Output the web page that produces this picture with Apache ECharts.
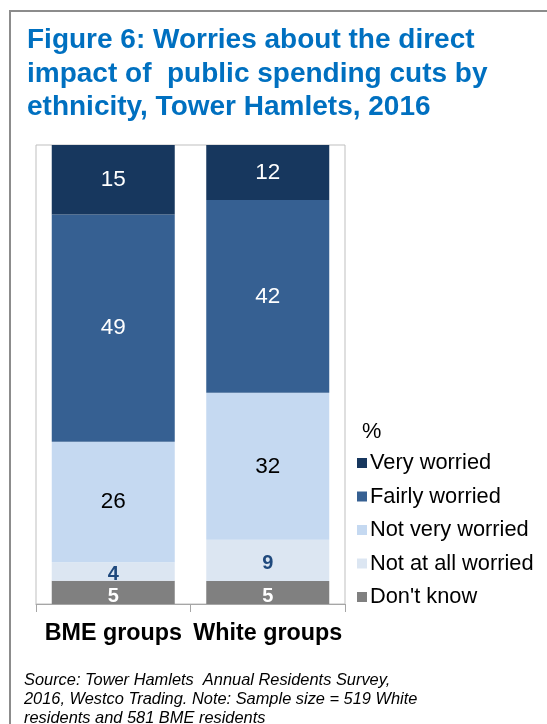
<!DOCTYPE html>
<html>
<head>
<meta charset="utf-8">
<script src="https://cdn.jsdelivr.net/npm/echarts@6/dist/echarts.min.js"></script>
<style>
html, body { margin: 0; padding: 0; background: #fff; }
#chart { width: 547px; height: 724px; }
</style>
</head>
<body>
<div id="chart"></div>
<script>
// data
var groups = ['BME groups', 'White groups'];
var answers = ['Very worried', 'Fairly worried', 'Not very worried', 'Not at all worried', "Don't know"];
var veryWorried = [15, 12];
var fairlyWorried = [49, 42];
var notVeryWorried = [26, 32];
var notAtAllWorried = [4, 9];
var dontKnow = [5, 5];

var colours = ['#17375E', '#366092', '#C5D9F1', '#DCE6F2', '#808080'];

var chart = echarts.init(document.getElementById('chart'));

// 100% stacked: share of each column total
var all = [veryWorried, fairlyWorried, notVeryWorried, notAtAllWorried, dontKnow];
var totals = groups.map(function(g, i){
    var s = 0;
    all.forEach(function(a){ s += a[i]; });
    return s;
});
function share(arr){
    return arr.map(function(v, i){ return { value: v / totals[i] * 100, raw: v }; });
}

function series(name, arr, colour, lbl){
    return {
        name: name,
        type: 'bar',
        stack: 'all',
        barWidth: 123,
        data: share(arr),
        itemStyle: { color: colour },
        label: Object.assign({
            show: true,
            position: 'inside',
            fontFamily: 'Liberation Sans',
            fontSize: 22.5,
            formatter: function(p){ return p.data.raw; }
        }, lbl)
    };
}

var option = {
    animation: false,
    title: {
        text: 'Figure 6: Worries about the direct\nimpact of  public spending cuts by\nethnicity, Tower Hamlets, 2016',
        left: 22,
        top: 19,
        textStyle: {
            color: '#0070C0',
            fontFamily: 'Liberation Sans',
            fontWeight: 'bold',
            fontSize: 28,
            lineHeight: 33.5
        }
    },
    legend: {
        orient: 'vertical',
        left: 352,
        top: 447,
        itemWidth: 10,
        itemHeight: 10,
        itemGap: 11.5,
        icon: 'rect',
        data: answers,
        textStyle: {
            fontFamily: 'Liberation Sans',
            fontSize: 21.8,
            color: '#000',
            padding: [0, 0, 0, -2]
        }
    },
    grid: {
        left: 36,
        right: 202,
        top: 145,
        bottom: 120,
        show: true,
        borderColor: '#BFBFBF',
        borderWidth: 1
    },
    xAxis: {
        type: 'category',
        data: groups,
        axisLine: { lineStyle: { color: '#A6A6A6' } },
        axisTick: { show: true, length: 8, interval: 0, lineStyle: { color: '#A6A6A6' } },
        axisLabel: {
            color: '#000',
            fontFamily: 'Liberation Sans',
            fontWeight: 'bold',
            fontSize: 23.3,
            margin: 18,
            interval: 0
        }
    },
    yAxis: {
        type: 'value',
        min: 0,
        max: 100,
        show: false,
        splitLine: { show: false }
    },
    series: [
        series("Don't know", dontKnow, colours[4], { color: '#fff', fontWeight: 'bold', fontSize: 20, offset: [0, 4] }),
        series('Not at all worried', notAtAllWorried, colours[3], { color: '#1F497D', fontWeight: 'bold', fontSize: 20, offset: [0, 3] }),
        series('Not very worried', notVeryWorried, colours[2], { color: '#000' }),
        series('Fairly worried', fairlyWorried, colours[1], { color: '#fff' }),
        series('Very worried', veryWorried, colours[0], { color: '#fff' })
    ],
    graphic: [
        {
            type: 'rect',
            shape: { x: 10, y: 11, width: 560, height: 760 },
            style: { fill: 'none', stroke: '#8C8C8C', lineWidth: 2 },
            silent: true
        },
        {
            type: 'text',
            left: 362,
            top: 421,
            style: { text: '%', fontFamily: 'Liberation Sans', fontSize: 21.8, fill: '#000' }
        },
        {
            type: 'text',
            left: 24,
            top: 671,
            style: {
                text: 'Source: Tower Hamlets  Annual Residents Survey,\n2016, Westco Trading. Note: Sample size = 519 White\nresidents and 581 BME residents',
                fontFamily: 'Liberation Sans',
                fontStyle: 'italic',
                fontSize: 16.4,
                lineHeight: 19,
                fill: '#000'
            }
        }
    ]
};
chart.setOption(option);
</script>
</body>
</html>
